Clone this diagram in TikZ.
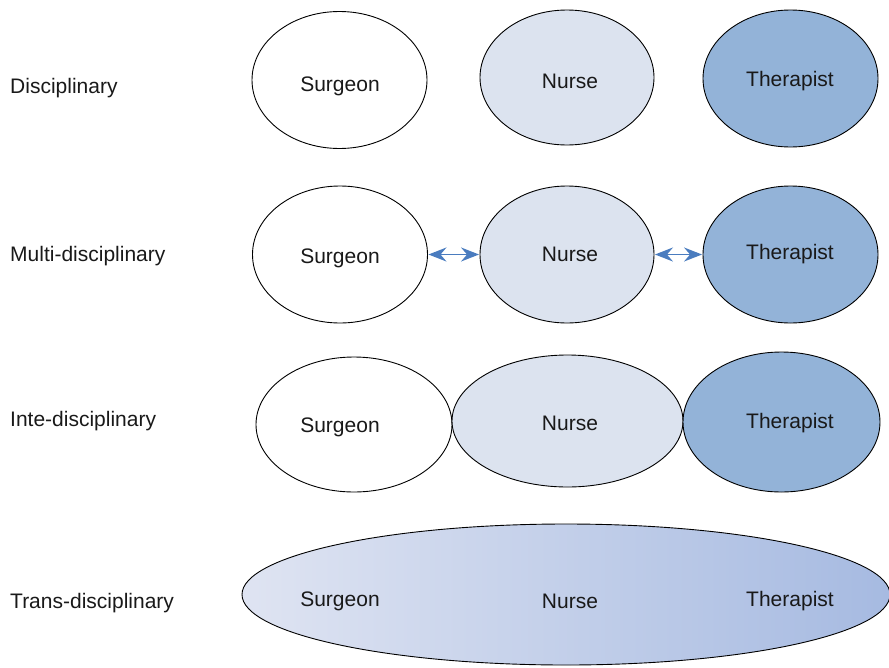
\documentclass[tikz,border=0pt]{standalone}
\usepackage{fontspec}
\setmainfont{Liberation Sans}
\usetikzlibrary{shapes.geometric,arrows.meta}
\definecolor{nursefill}{HTML}{DCE3EF}
\definecolor{therafill}{HTML}{93B3D8}
\definecolor{linkblue}{HTML}{4A7CBF}
\definecolor{teamleft}{HTML}{DFE4F2}
\definecolor{teamright}{HTML}{A6BAE1}
\tikzset{
  role/.style={ellipse, draw=black, line width=0.9pt, inner sep=0pt},
  rolelabel/.style={font=\fontsize{21}{25}\selectfont, text=black!90},
  rowlabel/.style={anchor=west, inner sep=0pt, font=\fontsize{21}{25}\selectfont, text=black!90},
  link/.style={linkblue, line width=1.6pt, {Stealth[length=18pt,width=14pt,inset=6pt]}-{Stealth[length=18pt,width=14pt,inset=6pt]}, shorten >=0.5pt, shorten <=0.5pt}
}
\begin{document}
\begin{tikzpicture}[x=1pt,y=-1pt]
\useasboundingbox (0,0) rectangle (889,667);

% row labels
\node[rowlabel] (l1) at (10,88) {Disciplinary};
\node[rowlabel] (l2) at (10,256) {Multi-disciplinary};
\node[rowlabel] (l3) at (10,421) {Inte-disciplinary};
\node[rowlabel] (l4) at (10,603) {Trans-disciplinary};

% disciplinary: separate circles
\node[role, fill=white, minimum width=175pt, minimum height=137pt] (s1) at (339.5,80) {};
\node[role, fill=nursefill, minimum width=174pt, minimum height=135pt] (n1) at (567,77.5) {};
\node[role, fill=therafill, minimum width=175pt, minimum height=137pt] (t1) at (790.5,78.5) {};
\node[rolelabel] at (340,86) {Surgeon};
\node[rolelabel] at (570,81) {Nurse};
\node[rolelabel] at (790,81) {Therapist};

% multi-disciplinary: separate circles linked by arrows
\node[role, fill=white, minimum width=175pt, minimum height=137pt] (s2) at (340,254.5) {};
\node[role, fill=nursefill, minimum width=174pt, minimum height=137pt] (n2) at (567,254.5) {};
\node[role, fill=therafill, minimum width=175pt, minimum height=137pt] (t2) at (790.5,254.5) {};
\node[rolelabel] at (340,258) {Surgeon};
\node[rolelabel] at (570,254) {Nurse};
\node[rolelabel] at (790,254) {Therapist};
\draw[link] (s2.east) -- (n2.west);
\draw[link] (n2.east) -- (t2.west);

% inter-disciplinary: touching ellipses
\node[role, fill=white, minimum width=196pt, minimum height=135pt] (s3) at (354,424.5) {};
\node[role, fill=nursefill, minimum width=231pt, minimum height=132pt] (n3) at (567.5,421) {};
\node[role, fill=therafill, minimum width=197pt, minimum height=140pt] (t3) at (781.5,422) {};
\node[rolelabel] at (340,427) {Surgeon};
\node[rolelabel] at (570,423) {Nurse};
\node[rolelabel] at (790,423) {Therapist};

% trans-disciplinary: one shared ellipse
\node[role, left color=teamleft, right color=teamright, minimum width=648pt, minimum height=141pt] (all) at (566,594.5) {};
\node[rolelabel] at (340,601) {Surgeon};
\node[rolelabel] at (570,601) {Nurse};
\node[rolelabel] at (790,601) {Therapist};
\end{tikzpicture}
\end{document}
